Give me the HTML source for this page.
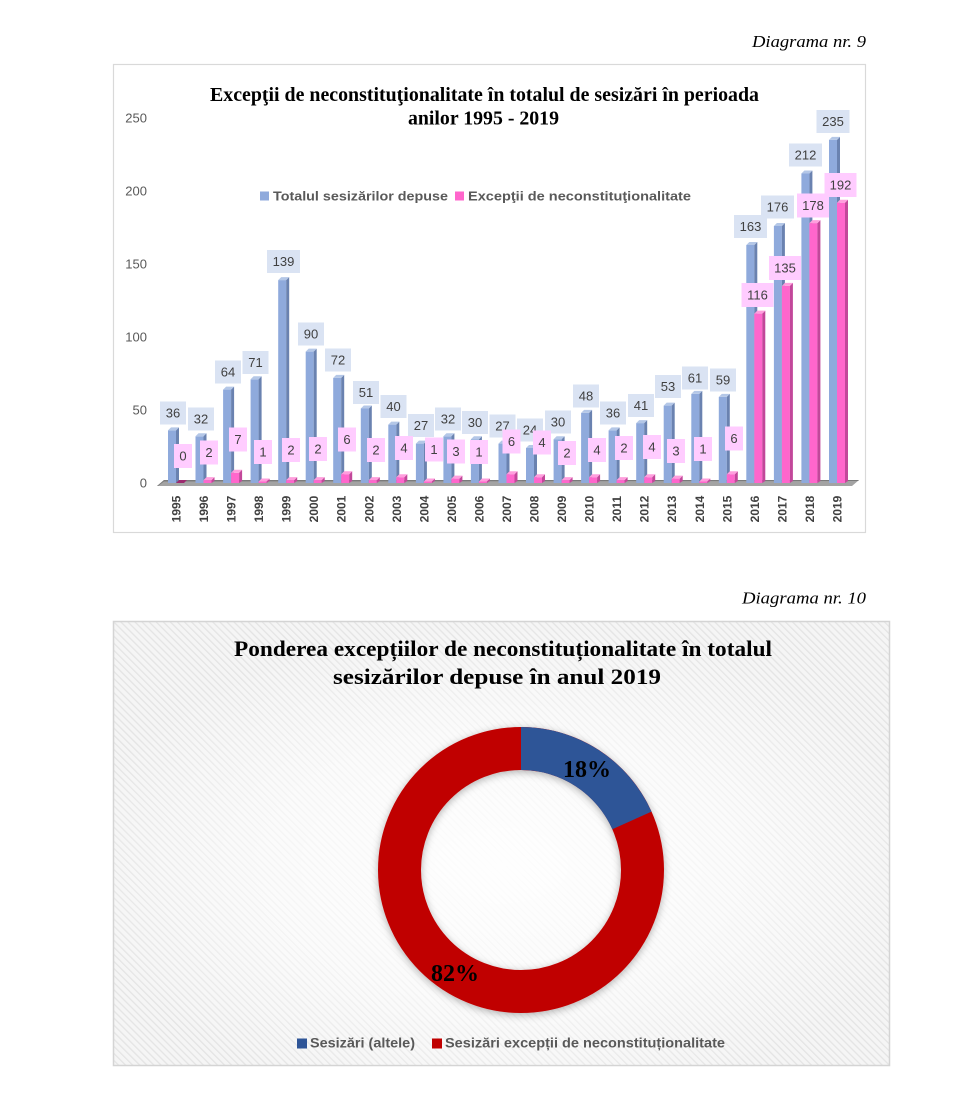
<!DOCTYPE html>
<html><head><meta charset="utf-8">
<style>
html,body{margin:0;padding:0;background:#fff;}
svg{display:block}
.bf{fill:#8FAADC}.bs{fill:#6A82B0}.bt{fill:#B4C7E7}
.pf{fill:#FF66CC}.ps{fill:#C2479A}.pt{fill:#FF9EDD}
.lb{fill:#DAE3F3}.lp{fill:#FFCCFF}
.lt{font-size:13px;fill:#404040;text-anchor:middle}
.yr{font-size:12px;font-weight:bold;fill:#404040;text-anchor:middle}
.ax{font-size:13px;fill:#595959;text-anchor:end}
</style></head>
<body>
<svg width="979" height="1115" viewBox="0 0 979 1115" xmlns="http://www.w3.org/2000/svg" font-family="'Liberation Sans', sans-serif">
<defs>
<pattern id="hatch" width="5" height="5" patternUnits="userSpaceOnUse" patternTransform="rotate(-45)">
<rect width="5" height="5" fill="#f5f5f5"/><rect width="1.3" height="5" fill="#e4e4e4"/>
</pattern>
<radialGradient id="glow" cx="0.5" cy="0.55" r="0.55">
<stop offset="0" stop-color="#fff" stop-opacity="0.95"/>
<stop offset="0.55" stop-color="#fff" stop-opacity="0.6"/>
<stop offset="1" stop-color="#fff" stop-opacity="0"/>
</radialGradient>
<filter id="sh" x="-20%" y="-20%" width="140%" height="140%">
<feDropShadow dx="0" dy="2" stdDeviation="4" flood-color="#000" flood-opacity="0.3"/>
</filter>
</defs>

<!-- Diagram 9 header -->
<text x="752" y="47" font-family="'Liberation Serif', serif" font-style="italic" font-size="17" textLength="114" lengthAdjust="spacingAndGlyphs" fill="#000">Diagrama nr. 9</text>

<!-- Chart 1 box -->
<rect x="113.5" y="64.5" width="752" height="468" fill="#fff" stroke="#d9d9d9" stroke-width="1.2"/>

<text x="210" y="101" font-family="'Liberation Serif', serif" font-weight="bold" font-size="19.5" textLength="549" lengthAdjust="spacingAndGlyphs" fill="#000">Excepţii de neconstituţionalitate în totalul de sesizări în perioada</text>
<text x="408" y="124.5" font-family="'Liberation Serif', serif" font-weight="bold" font-size="19.5" textLength="151" lengthAdjust="spacingAndGlyphs" fill="#000">anilor 1995 - 2019</text>

<!-- legend 1 -->
<rect x="260" y="191.5" width="9" height="9" fill="#8FAADC"/>
<text x="273" y="200.5" font-size="13" font-weight="bold" fill="#595959" textLength="175" lengthAdjust="spacingAndGlyphs">Totalul sesizărilor depuse</text>
<rect x="455" y="191.5" width="9" height="9" fill="#FF66CC"/>
<text x="468" y="200.5" font-size="13" font-weight="bold" fill="#595959" textLength="223" lengthAdjust="spacingAndGlyphs">Excepţii de neconstituţionalitate</text>

<!-- y axis -->
<text class="ax" x="147" y="122.5">250</text>
<text class="ax" x="147" y="195.5">200</text>
<text class="ax" x="147" y="268.5">150</text>
<text class="ax" x="147" y="341.5">100</text>
<text class="ax" x="147" y="414.5">50</text>
<text class="ax" x="147" y="487.5">0</text>

<!-- floor -->
<polygon points="157,486 164,480 859,480 852,486" fill="#a3a3a3"/>
<polygon points="157,486 164,480 859,480 858,481 164,481.5 158,486" fill="#7a7a7a"/>

<!-- bars -->
<g transform="translate(175,483)"><rect class="bf" x="-7" y="-52.6" width="8" height="52.6"/><polygon class="bs" points="1,-52.6 4,-55.6 4,-2 1,0"/><polygon class="bt" points="-7,-52.6 -4,-55.6 4,-55.6 1,-52.6"/><polygon fill="#9c2a6e" points="1,0 4,-3 12,-3 9,0"/></g>
<g transform="translate(202.5,483)"><rect class="bf" x="-7" y="-46.7" width="8" height="46.7"/><polygon class="bs" points="1,-46.7 4,-49.7 4,-2 1,0"/><polygon class="bt" points="-7,-46.7 -4,-49.7 4,-49.7 1,-46.7"/><rect class="pf" x="1" y="-2.9" width="8" height="2.9"/><polygon class="ps" points="9,-2.9 12,-5.9 12,-2 9,0"/><polygon class="pt" points="1,-2.9 4,-5.9 12,-5.9 9,-2.9"/></g>
<g transform="translate(230.1,483)"><rect class="bf" x="-7" y="-93.4" width="8" height="93.4"/><polygon class="bs" points="1,-93.4 4,-96.4 4,-2 1,0"/><polygon class="bt" points="-7,-93.4 -4,-96.4 4,-96.4 1,-93.4"/><rect class="pf" x="1" y="-10.2" width="8" height="10.2"/><polygon class="ps" points="9,-10.2 12,-13.2 12,-2 9,0"/><polygon class="pt" points="1,-10.2 4,-13.2 12,-13.2 9,-10.2"/></g>
<g transform="translate(257.6,483)"><rect class="bf" x="-7" y="-103.7" width="8" height="103.7"/><polygon class="bs" points="1,-103.7 4,-106.7 4,-2 1,0"/><polygon class="bt" points="-7,-103.7 -4,-106.7 4,-106.7 1,-103.7"/><rect class="pf" x="1" y="-1.5" width="8" height="1.5"/><polygon class="ps" points="9,-1.5 12,-4.5 12,-2 9,0"/><polygon class="pt" points="1,-1.5 4,-4.5 12,-4.5 9,-1.5"/></g>
<g transform="translate(285.2,483)"><rect class="bf" x="-7" y="-202.9" width="8" height="202.9"/><polygon class="bs" points="1,-202.9 4,-205.9 4,-2 1,0"/><polygon class="bt" points="-7,-202.9 -4,-205.9 4,-205.9 1,-202.9"/><rect class="pf" x="1" y="-2.9" width="8" height="2.9"/><polygon class="ps" points="9,-2.9 12,-5.9 12,-2 9,0"/><polygon class="pt" points="1,-2.9 4,-5.9 12,-5.9 9,-2.9"/></g>
<g transform="translate(312.7,483)"><rect class="bf" x="-7" y="-131.4" width="8" height="131.4"/><polygon class="bs" points="1,-131.4 4,-134.4 4,-2 1,0"/><polygon class="bt" points="-7,-131.4 -4,-134.4 4,-134.4 1,-131.4"/><rect class="pf" x="1" y="-2.9" width="8" height="2.9"/><polygon class="ps" points="9,-2.9 12,-5.9 12,-2 9,0"/><polygon class="pt" points="1,-2.9 4,-5.9 12,-5.9 9,-2.9"/></g>
<g transform="translate(340.2,483)"><rect class="bf" x="-7" y="-105.1" width="8" height="105.1"/><polygon class="bs" points="1,-105.1 4,-108.1 4,-2 1,0"/><polygon class="bt" points="-7,-105.1 -4,-108.1 4,-108.1 1,-105.1"/><rect class="pf" x="1" y="-8.8" width="8" height="8.8"/><polygon class="ps" points="9,-8.8 12,-11.8 12,-2 9,0"/><polygon class="pt" points="1,-8.8 4,-11.8 12,-11.8 9,-8.8"/></g>
<g transform="translate(367.8,483)"><rect class="bf" x="-7" y="-74.5" width="8" height="74.5"/><polygon class="bs" points="1,-74.5 4,-77.5 4,-2 1,0"/><polygon class="bt" points="-7,-74.5 -4,-77.5 4,-77.5 1,-74.5"/><rect class="pf" x="1" y="-2.9" width="8" height="2.9"/><polygon class="ps" points="9,-2.9 12,-5.9 12,-2 9,0"/><polygon class="pt" points="1,-2.9 4,-5.9 12,-5.9 9,-2.9"/></g>
<g transform="translate(395.3,483)"><rect class="bf" x="-7" y="-58.4" width="8" height="58.4"/><polygon class="bs" points="1,-58.4 4,-61.4 4,-2 1,0"/><polygon class="bt" points="-7,-58.4 -4,-61.4 4,-61.4 1,-58.4"/><rect class="pf" x="1" y="-5.8" width="8" height="5.8"/><polygon class="ps" points="9,-5.8 12,-8.8 12,-2 9,0"/><polygon class="pt" points="1,-5.8 4,-8.8 12,-8.8 9,-5.8"/></g>
<g transform="translate(422.9,483)"><rect class="bf" x="-7" y="-39.4" width="8" height="39.4"/><polygon class="bs" points="1,-39.4 4,-42.4 4,-2 1,0"/><polygon class="bt" points="-7,-39.4 -4,-42.4 4,-42.4 1,-39.4"/><rect class="pf" x="1" y="-1.5" width="8" height="1.5"/><polygon class="ps" points="9,-1.5 12,-4.5 12,-2 9,0"/><polygon class="pt" points="1,-1.5 4,-4.5 12,-4.5 9,-1.5"/></g>
<g transform="translate(450.4,483)"><rect class="bf" x="-7" y="-46.7" width="8" height="46.7"/><polygon class="bs" points="1,-46.7 4,-49.7 4,-2 1,0"/><polygon class="bt" points="-7,-46.7 -4,-49.7 4,-49.7 1,-46.7"/><rect class="pf" x="1" y="-4.4" width="8" height="4.4"/><polygon class="ps" points="9,-4.4 12,-7.4 12,-2 9,0"/><polygon class="pt" points="1,-4.4 4,-7.4 12,-7.4 9,-4.4"/></g>
<g transform="translate(477.9,483)"><rect class="bf" x="-7" y="-43.8" width="8" height="43.8"/><polygon class="bs" points="1,-43.8 4,-46.8 4,-2 1,0"/><polygon class="bt" points="-7,-43.8 -4,-46.8 4,-46.8 1,-43.8"/><rect class="pf" x="1" y="-1.5" width="8" height="1.5"/><polygon class="ps" points="9,-1.5 12,-4.5 12,-2 9,0"/><polygon class="pt" points="1,-1.5 4,-4.5 12,-4.5 9,-1.5"/></g>
<g transform="translate(505.5,483)"><rect class="bf" x="-7" y="-39.4" width="8" height="39.4"/><polygon class="bs" points="1,-39.4 4,-42.4 4,-2 1,0"/><polygon class="bt" points="-7,-39.4 -4,-42.4 4,-42.4 1,-39.4"/><rect class="pf" x="1" y="-8.8" width="8" height="8.8"/><polygon class="ps" points="9,-8.8 12,-11.8 12,-2 9,0"/><polygon class="pt" points="1,-8.8 4,-11.8 12,-11.8 9,-8.8"/></g>
<g transform="translate(533,483)"><rect class="bf" x="-7" y="-35" width="8" height="35"/><polygon class="bs" points="1,-35 4,-38 4,-2 1,0"/><polygon class="bt" points="-7,-35 -4,-38 4,-38 1,-35"/><rect class="pf" x="1" y="-5.8" width="8" height="5.8"/><polygon class="ps" points="9,-5.8 12,-8.8 12,-2 9,0"/><polygon class="pt" points="1,-5.8 4,-8.8 12,-8.8 9,-5.8"/></g>
<g transform="translate(560.6,483)"><rect class="bf" x="-7" y="-43.8" width="8" height="43.8"/><polygon class="bs" points="1,-43.8 4,-46.8 4,-2 1,0"/><polygon class="bt" points="-7,-43.8 -4,-46.8 4,-46.8 1,-43.8"/><rect class="pf" x="1" y="-2.9" width="8" height="2.9"/><polygon class="ps" points="9,-2.9 12,-5.9 12,-2 9,0"/><polygon class="pt" points="1,-2.9 4,-5.9 12,-5.9 9,-2.9"/></g>
<g transform="translate(588.1,483)"><rect class="bf" x="-7" y="-70.1" width="8" height="70.1"/><polygon class="bs" points="1,-70.1 4,-73.1 4,-2 1,0"/><polygon class="bt" points="-7,-70.1 -4,-73.1 4,-73.1 1,-70.1"/><rect class="pf" x="1" y="-5.8" width="8" height="5.8"/><polygon class="ps" points="9,-5.8 12,-8.8 12,-2 9,0"/><polygon class="pt" points="1,-5.8 4,-8.8 12,-8.8 9,-5.8"/></g>
<g transform="translate(615.6,483)"><rect class="bf" x="-7" y="-52.6" width="8" height="52.6"/><polygon class="bs" points="1,-52.6 4,-55.6 4,-2 1,0"/><polygon class="bt" points="-7,-52.6 -4,-55.6 4,-55.6 1,-52.6"/><rect class="pf" x="1" y="-2.9" width="8" height="2.9"/><polygon class="ps" points="9,-2.9 12,-5.9 12,-2 9,0"/><polygon class="pt" points="1,-2.9 4,-5.9 12,-5.9 9,-2.9"/></g>
<g transform="translate(643.2,483)"><rect class="bf" x="-7" y="-59.9" width="8" height="59.9"/><polygon class="bs" points="1,-59.9 4,-62.9 4,-2 1,0"/><polygon class="bt" points="-7,-59.9 -4,-62.9 4,-62.9 1,-59.9"/><rect class="pf" x="1" y="-5.8" width="8" height="5.8"/><polygon class="ps" points="9,-5.8 12,-8.8 12,-2 9,0"/><polygon class="pt" points="1,-5.8 4,-8.8 12,-8.8 9,-5.8"/></g>
<g transform="translate(670.7,483)"><rect class="bf" x="-7" y="-77.4" width="8" height="77.4"/><polygon class="bs" points="1,-77.4 4,-80.4 4,-2 1,0"/><polygon class="bt" points="-7,-77.4 -4,-80.4 4,-80.4 1,-77.4"/><rect class="pf" x="1" y="-4.4" width="8" height="4.4"/><polygon class="ps" points="9,-4.4 12,-7.4 12,-2 9,0"/><polygon class="pt" points="1,-4.4 4,-7.4 12,-7.4 9,-4.4"/></g>
<g transform="translate(698.3,483)"><rect class="bf" x="-7" y="-89.1" width="8" height="89.1"/><polygon class="bs" points="1,-89.1 4,-92.1 4,-2 1,0"/><polygon class="bt" points="-7,-89.1 -4,-92.1 4,-92.1 1,-89.1"/><rect class="pf" x="1" y="-1.5" width="8" height="1.5"/><polygon class="ps" points="9,-1.5 12,-4.5 12,-2 9,0"/><polygon class="pt" points="1,-1.5 4,-4.5 12,-4.5 9,-1.5"/></g>
<g transform="translate(725.8,483)"><rect class="bf" x="-7" y="-86.1" width="8" height="86.1"/><polygon class="bs" points="1,-86.1 4,-89.1 4,-2 1,0"/><polygon class="bt" points="-7,-86.1 -4,-89.1 4,-89.1 1,-86.1"/><rect class="pf" x="1" y="-8.8" width="8" height="8.8"/><polygon class="ps" points="9,-8.8 12,-11.8 12,-2 9,0"/><polygon class="pt" points="1,-8.8 4,-11.8 12,-11.8 9,-8.8"/></g>
<g transform="translate(753.3,483)"><rect class="bf" x="-7" y="-238" width="8" height="238"/><polygon class="bs" points="1,-238 4,-241 4,-2 1,0"/><polygon class="bt" points="-7,-238 -4,-241 4,-241 1,-238"/><rect class="pf" x="1" y="-169.4" width="8" height="169.4"/><polygon class="ps" points="9,-169.4 12,-172.4 12,-2 9,0"/><polygon class="pt" points="1,-169.4 4,-172.4 12,-172.4 9,-169.4"/></g>
<g transform="translate(780.9,483)"><rect class="bf" x="-7" y="-257" width="8" height="257"/><polygon class="bs" points="1,-257 4,-260 4,-2 1,0"/><polygon class="bt" points="-7,-257 -4,-260 4,-260 1,-257"/><rect class="pf" x="1" y="-197.1" width="8" height="197.1"/><polygon class="ps" points="9,-197.1 12,-200.1 12,-2 9,0"/><polygon class="pt" points="1,-197.1 4,-200.1 12,-200.1 9,-197.1"/></g>
<g transform="translate(808.4,483)"><rect class="bf" x="-7" y="-309.5" width="8" height="309.5"/><polygon class="bs" points="1,-309.5 4,-312.5 4,-2 1,0"/><polygon class="bt" points="-7,-309.5 -4,-312.5 4,-312.5 1,-309.5"/><rect class="pf" x="1" y="-259.9" width="8" height="259.9"/><polygon class="ps" points="9,-259.9 12,-262.9 12,-2 9,0"/><polygon class="pt" points="1,-259.9 4,-262.9 12,-262.9 9,-259.9"/></g>
<g transform="translate(836,483)"><rect class="bf" x="-7" y="-343.1" width="8" height="343.1"/><polygon class="bs" points="1,-343.1 4,-346.1 4,-2 1,0"/><polygon class="bt" points="-7,-343.1 -4,-346.1 4,-346.1 1,-343.1"/><rect class="pf" x="1" y="-280.3" width="8" height="280.3"/><polygon class="ps" points="9,-280.3 12,-283.3 12,-2 9,0"/><polygon class="pt" points="1,-280.3 4,-283.3 12,-283.3 9,-280.3"/></g>

<!-- blue labels -->
<g>
<rect class="lb" x="160" y="401.5" width="26" height="23"/><text class="lt" x="173" y="417.5">36</text>
<rect class="lb" x="188" y="407.5" width="26" height="23"/><text class="lt" x="201" y="423.5">32</text>
<rect class="lb" x="215" y="360.5" width="26" height="23"/><text class="lt" x="228" y="376.5">64</text>
<rect class="lb" x="242.5" y="351" width="26" height="23"/><text class="lt" x="255.5" y="367">71</text>
<rect class="lb" x="267" y="250" width="33" height="23"/><text class="lt" x="283.5" y="266">139</text>
<rect class="lb" x="298" y="322.5" width="26" height="23"/><text class="lt" x="311" y="338.5">90</text>
<rect class="lb" x="325" y="348.5" width="26" height="23"/><text class="lt" x="338" y="364.5">72</text>
<rect class="lb" x="353" y="381" width="26" height="23"/><text class="lt" x="366" y="397">51</text>
<rect class="lb" x="380.5" y="395" width="26" height="23"/><text class="lt" x="393.5" y="411">40</text>
<rect class="lb" x="408" y="414" width="26" height="23"/><text class="lt" x="421" y="430">27</text>
<rect class="lb" x="435" y="407.5" width="26" height="23"/><text class="lt" x="448" y="423.5">32</text>
<rect class="lb" x="462" y="411" width="26" height="23"/><text class="lt" x="475" y="427">30</text>
<rect class="lb" x="489.5" y="414.5" width="26" height="23"/><text class="lt" x="502.5" y="430.5">27</text>
<rect class="lb" x="517" y="418.5" width="26" height="23"/><text class="lt" x="530" y="434.5">24</text>
<rect class="lb" x="545" y="410.5" width="26" height="23"/><text class="lt" x="558" y="426.5">30</text>
<rect class="lb" x="573" y="384.5" width="26" height="23"/><text class="lt" x="586" y="400.5">48</text>
<rect class="lb" x="600" y="401.5" width="26" height="23"/><text class="lt" x="613" y="417.5">36</text>
<rect class="lb" x="628" y="394" width="26" height="23"/><text class="lt" x="641" y="410">41</text>
<rect class="lb" x="655" y="375" width="26" height="23"/><text class="lt" x="668" y="391">53</text>
<rect class="lb" x="682" y="366.5" width="26" height="23"/><text class="lt" x="695" y="382.5">61</text>
<rect class="lb" x="710" y="368.5" width="26" height="23"/><text class="lt" x="723" y="384.5">59</text>
<rect class="lb" x="734" y="215" width="33" height="23"/><text class="lt" x="750.5" y="231">163</text>
<rect class="lb" x="761" y="195.5" width="33" height="23"/><text class="lt" x="777.5" y="211.5">176</text>
<rect class="lb" x="789" y="143.5" width="33" height="23"/><text class="lt" x="805.5" y="159.5">212</text>
<rect class="lb" x="816.5" y="110" width="33" height="23"/><text class="lt" x="833" y="126">235</text>
</g>

<!-- pink labels -->
<g>
<rect class="lp" x="174" y="444" width="18" height="24"/><text class="lt" x="183" y="460.5">0</text>
<rect class="lp" x="200" y="440.5" width="18" height="24"/><text class="lt" x="209" y="457">2</text>
<rect class="lp" x="229" y="427.5" width="18" height="24"/><text class="lt" x="238" y="444">7</text>
<rect class="lp" x="254" y="440" width="18" height="24"/><text class="lt" x="263" y="456.5">1</text>
<rect class="lp" x="282" y="438" width="18" height="24"/><text class="lt" x="291" y="454.5">2</text>
<rect class="lp" x="309" y="437" width="18" height="24"/><text class="lt" x="318" y="453.5">2</text>
<rect class="lp" x="338" y="427.5" width="18" height="24"/><text class="lt" x="347" y="444">6</text>
<rect class="lp" x="367" y="438" width="18" height="24"/><text class="lt" x="376" y="454.5">2</text>
<rect class="lp" x="395" y="436" width="18" height="24"/><text class="lt" x="404" y="452.5">4</text>
<rect class="lp" x="425" y="437.5" width="18" height="24"/><text class="lt" x="434" y="454">1</text>
<rect class="lp" x="447" y="439.5" width="18" height="24"/><text class="lt" x="456" y="456">3</text>
<rect class="lp" x="470" y="440" width="18" height="24"/><text class="lt" x="479" y="456.5">1</text>
<rect class="lp" x="502.5" y="429.5" width="18" height="24"/><text class="lt" x="511.5" y="446">6</text>
<rect class="lp" x="533" y="430.5" width="18" height="24"/><text class="lt" x="542" y="447">4</text>
<rect class="lp" x="558" y="441" width="18" height="24"/><text class="lt" x="567" y="457.5">2</text>
<rect class="lp" x="588" y="438" width="18" height="24"/><text class="lt" x="597" y="454.5">4</text>
<rect class="lp" x="615" y="436" width="18" height="24"/><text class="lt" x="624" y="452.5">2</text>
<rect class="lp" x="643" y="435" width="18" height="24"/><text class="lt" x="652" y="451.5">4</text>
<rect class="lp" x="667" y="439" width="18" height="24"/><text class="lt" x="676" y="455.5">3</text>
<rect class="lp" x="694" y="437" width="18" height="24"/><text class="lt" x="703" y="453.5">1</text>
<rect class="lp" x="725" y="426.5" width="18" height="24"/><text class="lt" x="734" y="443">6</text>
<rect class="lp" x="741.5" y="283" width="32" height="24"/><text class="lt" x="757.5" y="299.5">116</text>
<rect class="lp" x="769" y="256" width="32" height="24"/><text class="lt" x="785" y="272.5">135</text>
<rect class="lp" x="797" y="193.5" width="32" height="24"/><text class="lt" x="813" y="210">178</text>
<rect class="lp" x="824.5" y="173" width="32" height="24"/><text class="lt" x="840.5" y="189.5">192</text>
</g>

<!-- year labels -->
<g class="yr">
<text transform="translate(180.5,509) rotate(-90)">1995</text>
<text transform="translate(208,509) rotate(-90)">1996</text>
<text transform="translate(235.6,509) rotate(-90)">1997</text>
<text transform="translate(263.1,509) rotate(-90)">1998</text>
<text transform="translate(290.7,509) rotate(-90)">1999</text>
<text transform="translate(318.2,509) rotate(-90)">2000</text>
<text transform="translate(345.7,509) rotate(-90)">2001</text>
<text transform="translate(373.3,509) rotate(-90)">2002</text>
<text transform="translate(400.8,509) rotate(-90)">2003</text>
<text transform="translate(428.4,509) rotate(-90)">2004</text>
<text transform="translate(455.9,509) rotate(-90)">2005</text>
<text transform="translate(483.4,509) rotate(-90)">2006</text>
<text transform="translate(511,509) rotate(-90)">2007</text>
<text transform="translate(538.5,509) rotate(-90)">2008</text>
<text transform="translate(566.1,509) rotate(-90)">2009</text>
<text transform="translate(593.6,509) rotate(-90)">2010</text>
<text transform="translate(621.1,509) rotate(-90)">2011</text>
<text transform="translate(648.7,509) rotate(-90)">2012</text>
<text transform="translate(676.2,509) rotate(-90)">2013</text>
<text transform="translate(703.8,509) rotate(-90)">2014</text>
<text transform="translate(731.3,509) rotate(-90)">2015</text>
<text transform="translate(758.8,509) rotate(-90)">2016</text>
<text transform="translate(786.4,509) rotate(-90)">2017</text>
<text transform="translate(813.9,509) rotate(-90)">2018</text>
<text transform="translate(841.5,509) rotate(-90)">2019</text>
</g>

<!-- Diagram 10 header -->
<text x="742" y="603.5" font-family="'Liberation Serif', serif" font-style="italic" font-size="17" textLength="124" lengthAdjust="spacingAndGlyphs" fill="#000">Diagrama nr. 10</text>

<!-- Chart 2 box -->
<rect x="113.5" y="621.5" width="776" height="444" fill="url(#hatch)" stroke="#d4d4d4" stroke-width="1.5"/>
<rect x="114" y="622" width="775" height="443" fill="url(#glow)"/>

<text x="234" y="656" font-family="'Liberation Serif', serif" font-weight="bold" font-size="22" textLength="538" lengthAdjust="spacingAndGlyphs" fill="#000">Ponderea excepțiilor de neconstituționalitate în totalul</text>
<text x="333" y="684" font-family="'Liberation Serif', serif" font-weight="bold" font-size="22" textLength="328" lengthAdjust="spacingAndGlyphs" fill="#000">sesizărilor depuse în anul 2019</text>

<!-- donut -->
<g filter="url(#sh)">
<circle cx="521" cy="870" r="121.5" fill="none" stroke="#C00000" stroke-width="43"/>
<path d="M521,727 A143,143 0 0 1 651.5,811.6 L612.3,829.2 A100,100 0 0 0 521,770 Z" fill="#2F5597"/>
</g>
<text x="587" y="777" font-family="'Liberation Serif', serif" font-weight="bold" font-size="24" text-anchor="middle" fill="#000">18%</text>
<text x="455" y="981" font-family="'Liberation Serif', serif" font-weight="bold" font-size="24" text-anchor="middle" fill="#000">82%</text>

<!-- legend 2 -->
<rect x="297" y="1038.5" width="10" height="10" fill="#2F5597"/>
<text x="310" y="1047.5" font-size="13.5" font-weight="bold" fill="#595959" textLength="105" lengthAdjust="spacingAndGlyphs">Sesizări (altele)</text>
<rect x="432" y="1038.5" width="10" height="10" fill="#C00000"/>
<text x="445" y="1047.5" font-size="13.5" font-weight="bold" fill="#595959" textLength="280" lengthAdjust="spacingAndGlyphs">Sesizări excepții de neconstituționalitate</text>
</svg>
</body></html>
